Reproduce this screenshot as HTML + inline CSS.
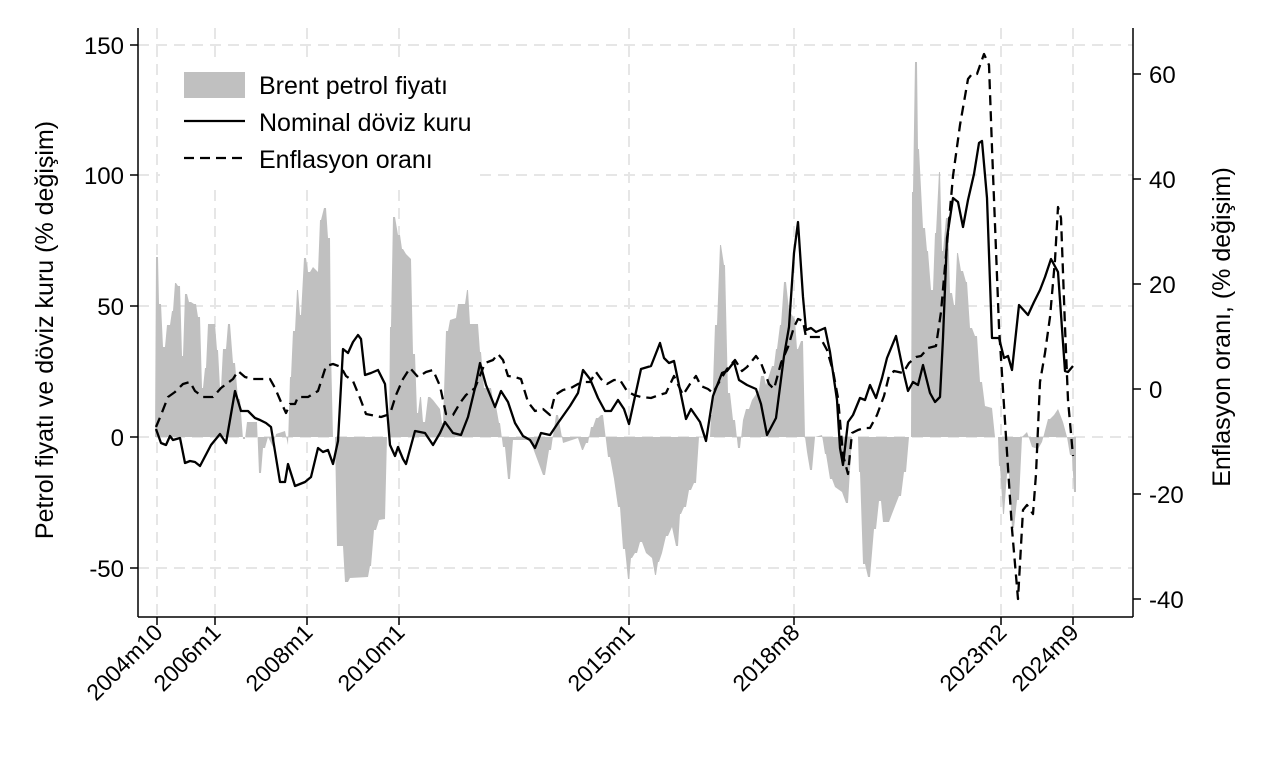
<!DOCTYPE html>
<html><head><meta charset="utf-8"><style>
html,body{margin:0;padding:0;background:#fff;}
svg{display:block;font-family:"Liberation Sans",Arial,sans-serif;}
</style></head><body>
<svg width="1269" height="762" viewBox="0 0 1269 762" xmlns="http://www.w3.org/2000/svg">
<rect width="1269" height="762" fill="#fff"/>
<g stroke="#e6e6e6" stroke-width="2" stroke-dasharray="11,7" fill="none">
<line x1="138" x2="1133" y1="45" y2="45"/><line x1="138" x2="1133" y1="175" y2="175"/>
<line x1="138" x2="1133" y1="306" y2="306"/><line x1="138" x2="1133" y1="437" y2="437"/>
<line x1="138" x2="1133" y1="568" y2="568"/>
<line x1="157" x2="157" y1="28" y2="617"/><line x1="215" x2="215" y1="28" y2="617"/>
<line x1="307" x2="307" y1="28" y2="617"/><line x1="399" x2="399" y1="28" y2="617"/>
<line x1="629" x2="629" y1="28" y2="617"/><line x1="794" x2="794" y1="28" y2="617"/>
<line x1="1001" x2="1001" y1="28" y2="617"/><line x1="1073" x2="1073" y1="28" y2="617"/>
</g>
<polygon fill="#c0c0c0" points="155,437 156,257 158,257 159,304 161,304 163,347 165,347 167,325 170,325 172,311 173,311 175,283 176,283 178,286 180,286 182,356 183,356 185,294 187,294 189,302 191,302 194,304 196,304 198,317 200,317 202,388 203,388 205,368 206,368 208,324 215,324 217,350 218,350 220,388 221,388 223,349 226,349 228,324 230,324 233,363 235,363 238,399 240,399 243,439 245,439 247,422 257,422 259,473 261,473 263,448 265,448 268,437 273,447 276,434 285,431 288,445 290,377 291,377 293,331 295,331 297,290 298,290 300,315 301,315 304,258 306,258 308,272 310,272 313,267 318,272 320,220 321,220 324,208 326,208 328,238 330,238 331,352 333,437 335,437 337,546 343,546 345,582 348,582 350,578 368,577 370,566 371,566 374,530 376,530 379,520 385,519 387,437 389,437 390,327 391,327 393,217 395,217 398,235 400,235 402,249 403,249 406,254 411,259 413,354 415,354 417,413 418,413 420,397 421,397 423,422 425,422 428,397 430,397 433,400 440,409 442,423 443,423 446,331 448,331 450,320 456,318 458,304 465,304 467,290 468,290 470,324 478,324 480,352 481,352 484,388 491,388 494,406 496,406 499,423 500,423 503,447 505,447 508,479 510,479 513,440 530,440 543,475 545,475 549,450 551,450 556,415 558,415 563,443 578,438 582,450 583,450 586,443 588,443 591,427 593,427 596,418 598,418 601,415 603,415 608,457 610,457 614,479 618,507 620,507 623,549 625,549 628,579 629,579 631,558 632,558 635,553 637,553 640,542 642,542 646,553 652,558 655,575 656,575 658,562 659,562 662,553 666,536 668,536 672,527 676,546 678,546 680,514 681,514 684,507 686,507 689,490 691,490 694,483 696,483 699,437 710,437 711,415 712,415 715,325 717,325 720,245 721,245 724,265 725,265 728,393 730,393 733,420 735,420 738,448 740,448 743,420 746,409 749,409 752,400 759,390 761,376 764,376 766,385 772,366 774,366 776,349 777,349 780,325 781,325 784,282 786,282 789,310 795,320 797,349 798,349 801,341 803,341 805,437 807,452 810,470 812,470 815,437 822,435 825,454 826,454 830,479 832,479 835,487 842,492 846,503 848,503 852,437 858,437 859,472 860,472 863,564 865,564 868,577 870,577 874,529 876,529 879,501 881,501 883,522 889,522 892,514 899,496 901,496 904,472 906,472 909,437 911,437 912,192 913,192 915,62 917,62 918,149 919,149 923,228 925,228 927,251 928,251 931,290 933,290 935,233 936,233 939,172 940,172 942,251 943,251 946,218 948,218 950,293 952,293 954,305 955,305 957,253 958,253 961,271 963,271 966,282 967,282 970,328 972,328 975,336 977,336 980,382 982,382 985,406 992,408 995,437 998,437 999,466 1000,466 1003,514 1004,514 1007,474 1009,474 1012,528 1014,528 1017,500 1019,500 1022,437 1027,432 1032,447 1038,449 1042,442 1048,419 1050,419 1054,415 1058,409 1063,422 1067,437 1070,455 1072,455 1074,492 1076,492 1076,437"/>
<g fill="none" stroke="#000" stroke-width="2.3" stroke-linejoin="round">
<polyline points="156,429 161,443 166,445 170,436 173,440 180,438 185,463 190,461 195,462 200,466 211,445 220,434 226,443 235,391 241,411 248,411 255,418 260,420 266,423 271,427 280,482 285,482 288,464 295,486 305,482 311,477 318,448 323,452 328,450 333,464 338,441 343,349 348,353 353,342 358,335 361,339 365,375 371,373 378,370 385,384 390,445 395,456 398,447 403,459 406,464 415,431 425,433 433,445 440,433 445,422 453,433 461,435 468,417 475,388 480,363 486,385 495,407 501,391 508,402 515,423 523,436 530,440 535,448 541,433 550,435 558,423 570,406 578,393 583,370 590,379 598,398 605,411 611,411 618,400 624,409 629,424 641,369 651,366 660,343 664,358 669,363 674,361 679,385 686,419 691,409 700,422 706,441 713,396 722,373 727,371 734,362 739,380 747,385 756,389 761,404 767,435 776,418 784,356 789,327 794,253 798,222 803,297 806,330 811,328 816,332 825,328 830,352 837,400 840,448 843,465 848,422 853,415 860,398 865,400 870,385 876,398 882,378 887,358 896,336 903,370 908,391 913,382 918,385 923,365 930,393 935,402 940,397 943,338 947,238 953,198 958,202 963,227 968,200 974,174 979,143 982,141 987,198 992,338 999,338 1004,358 1008,356 1012,370 1019,305 1028,315 1034,302 1040,290 1045,277 1051,259 1058,272 1065,371 1068,372 1073,366"/>
<polyline stroke-dasharray="10,6" points="156,427 161,415 168,397 175,392 183,384 190,382 195,391 203,397 213,397 221,388 233,379 238,371 245,377 253,379 265,379 270,379 275,388 281,402 286,413 290,404 295,404 298,397 308,397 318,391 326,366 333,364 341,367 346,376 353,381 360,398 366,414 371,415 381,417 390,414 396,395 403,379 410,368 418,377 426,372 433,370 440,386 446,414 453,415 460,403 466,395 475,388 485,363 493,360 498,354 503,360 508,376 515,377 521,379 528,402 535,411 543,409 550,415 555,395 563,390 571,388 578,384 585,382 590,382 596,372 601,379 607,384 614,380 620,380 627,391 634,395 641,397 651,398 659,395 666,393 674,376 683,395 690,384 696,376 701,386 708,389 713,393 718,384 727,369 735,360 742,371 747,367 756,356 761,363 769,384 774,389 781,363 788,347 794,327 798,319 803,321 806,337 812,337 820,337 827,350 833,371 838,398 843,455 848,474 852,433 858,430 864,428 870,428 877,415 884,396 889,376 894,371 903,373 909,363 916,357 921,356 928,348 936,346 941,312 947,244 953,176 960,125 968,79 972,74 977,74 984,54 989,65 992,148 999,327 1006,437 1012,529 1018,599 1023,510 1027,505 1033,514 1036,474 1040,382 1045,353 1050,317 1055,260 1058,207 1061,218 1065,327 1068,400 1073,456"/>
</g>
<rect x="160" y="58" width="320" height="125" fill="#fff"/>
<rect x="184" y="72" width="61" height="26" fill="#c0c0c0"/>
<line x1="184" x2="245" y1="121" y2="121" stroke="#000" stroke-width="2.3"/>
<line x1="184" x2="245" y1="158" y2="158" stroke="#000" stroke-width="2.3" stroke-dasharray="10,6"/>
<g font-size="25" fill="#000">
<text x="259" y="94">Brent petrol fiyatı</text>
<text x="259" y="131">Nominal döviz kuru</text>
<text x="259" y="168">Enflasyon oranı</text>
</g>
<g stroke="#000" stroke-width="1.5" fill="none">
<line x1="138" x2="138" y1="28" y2="617"/>
<line x1="138" x2="1133" y1="617" y2="617"/>
<line x1="1133" x2="1133" y1="28" y2="617"/>
<line x1="130" x2="138" y1="45" y2="45"/><line x1="130" x2="138" y1="175" y2="175"/>
<line x1="130" x2="138" y1="306" y2="306"/><line x1="130" x2="138" y1="437" y2="437"/>
<line x1="130" x2="138" y1="568" y2="568"/>
<line x1="1133" x2="1141" y1="74" y2="74"/><line x1="1133" x2="1141" y1="179" y2="179"/>
<line x1="1133" x2="1141" y1="284" y2="284"/><line x1="1133" x2="1141" y1="389" y2="389"/>
<line x1="1133" x2="1141" y1="494" y2="494"/><line x1="1133" x2="1141" y1="599" y2="599"/>
<line x1="157" x2="157" y1="617" y2="625"/><line x1="215" x2="215" y1="617" y2="625"/>
<line x1="307" x2="307" y1="617" y2="625"/><line x1="399" x2="399" y1="617" y2="625"/>
<line x1="629" x2="629" y1="617" y2="625"/><line x1="794" x2="794" y1="617" y2="625"/>
<line x1="1001" x2="1001" y1="617" y2="625"/><line x1="1073" x2="1073" y1="617" y2="625"/>
</g>
<g font-size="24" fill="#000" text-anchor="end">
<text x="124" y="54">150</text><text x="124" y="184">100</text>
<text x="124" y="315">50</text><text x="124" y="446">0</text>
<text x="124" y="577">-50</text>
</g>
<g font-size="24" fill="#000" text-anchor="start">
<text x="1149" y="83">60</text><text x="1149" y="188">40</text>
<text x="1149" y="293">20</text><text x="1149" y="398">0</text>
<text x="1149" y="503">-20</text><text x="1149" y="608">-40</text>
</g>
<g font-size="23" fill="#000" text-anchor="end">
<text transform="translate(164,634) rotate(-45)">2004m10</text>
<text transform="translate(222,634) rotate(-45)">2006m1</text>
<text transform="translate(314,634) rotate(-45)">2008m1</text>
<text transform="translate(406,634) rotate(-45)">2010m1</text>
<text transform="translate(636,634) rotate(-45)">2015m1</text>
<text transform="translate(801,634) rotate(-45)">2018m8</text>
<text transform="translate(1008,634) rotate(-45)">2023m2</text>
<text transform="translate(1080,634) rotate(-45)">2024m9</text>
</g>
<text transform="translate(53,330) rotate(-90)" text-anchor="middle" font-size="25">Petrol fiyatı ve döviz kuru (% değişim)</text>
<text transform="translate(1230,327) rotate(-90)" text-anchor="middle" font-size="25">Enflasyon oranı, (% değişim)</text>
</svg>
</body></html>
